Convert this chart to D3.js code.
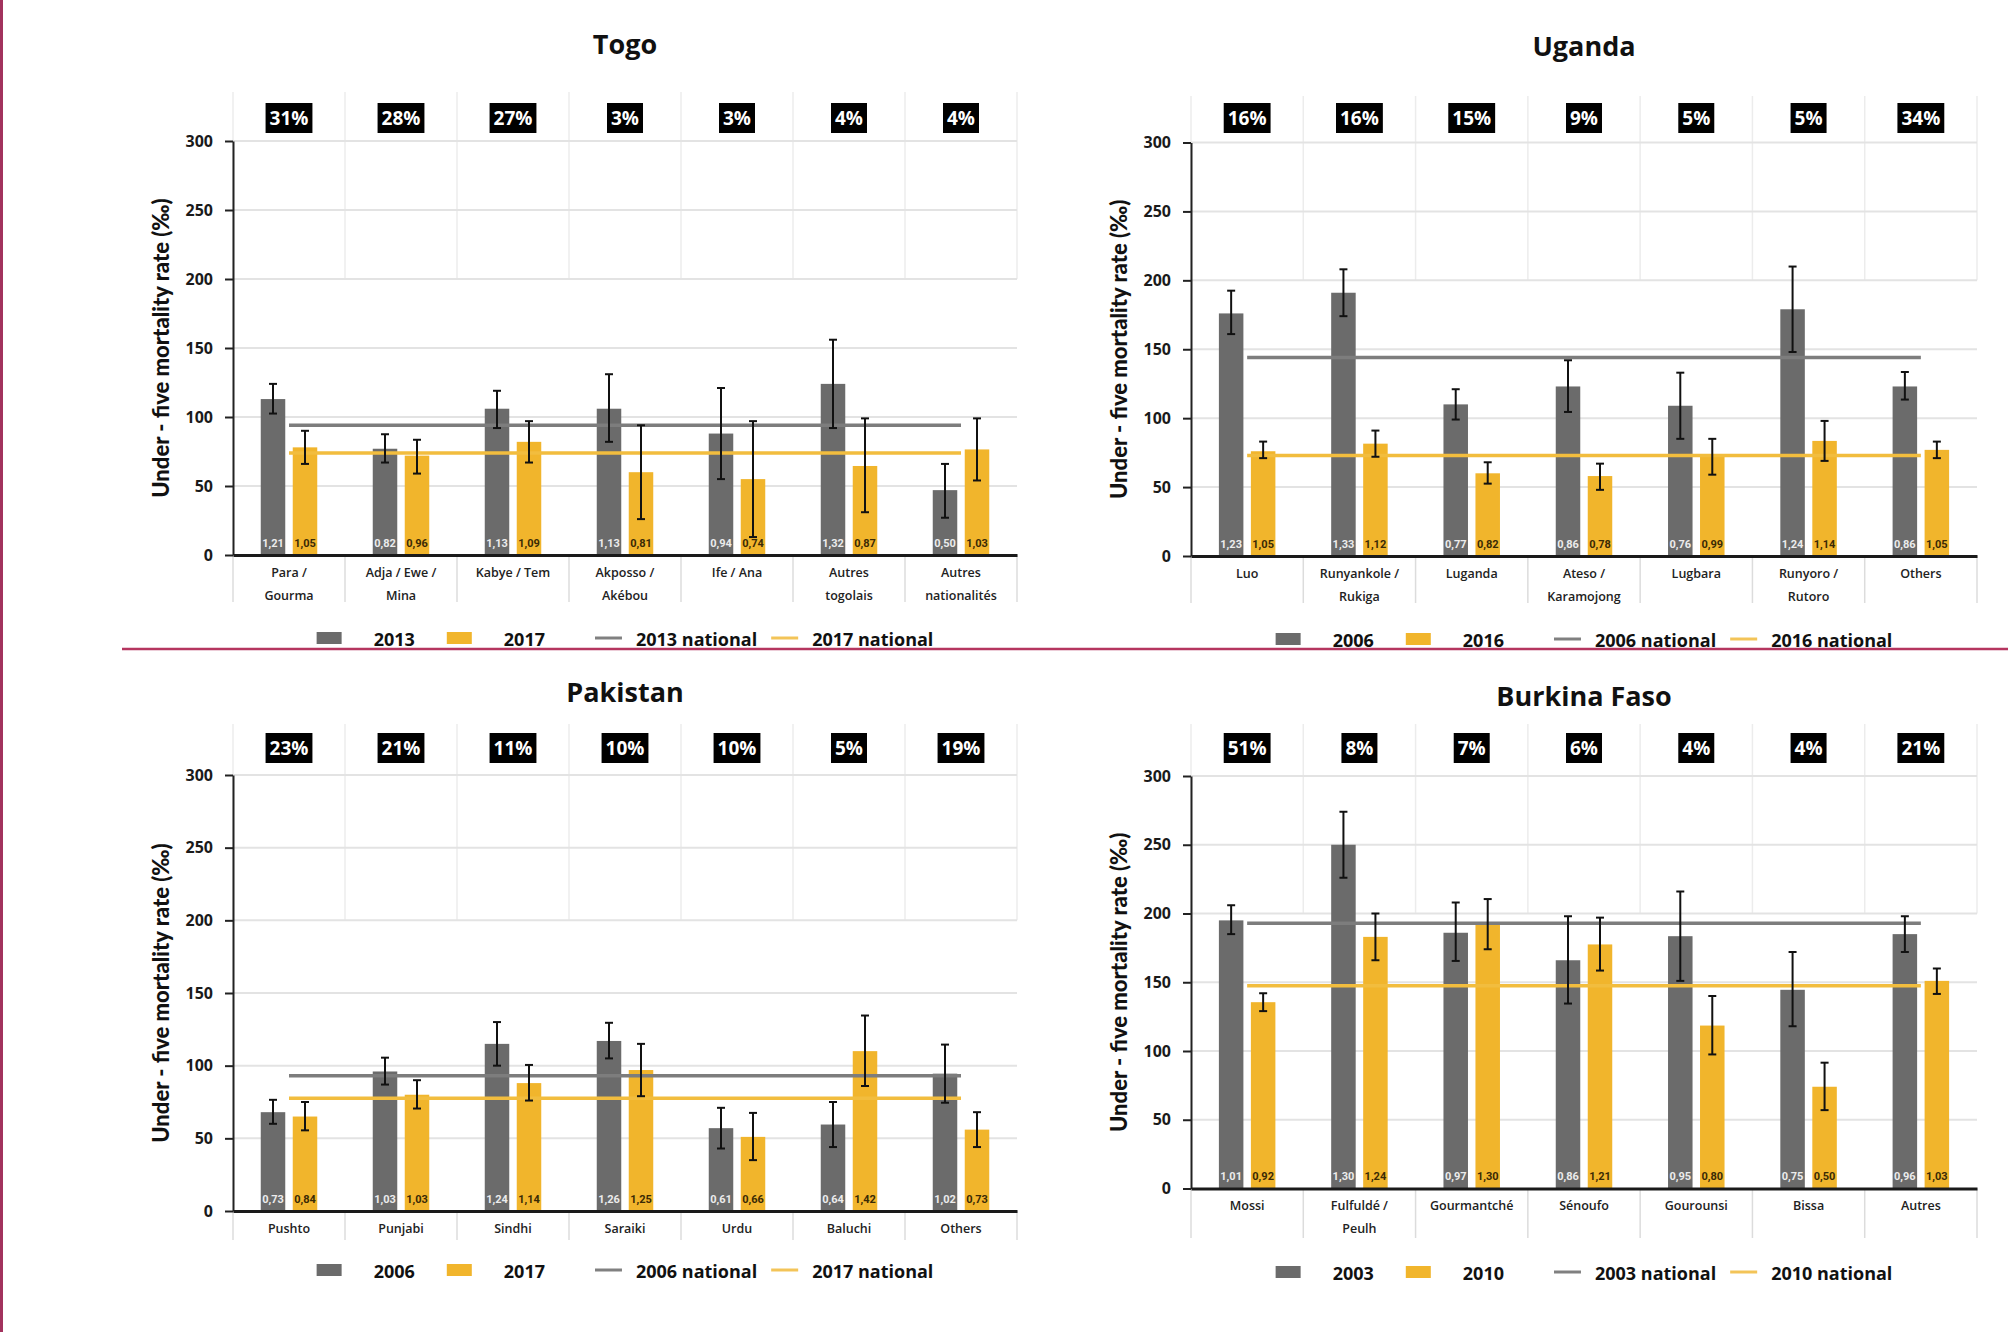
<!DOCTYPE html>
<html>
<head>
<meta charset="utf-8">
<script src="https://cdn.jsdelivr.net/npm/d3@7/dist/d3.min.js"></script>
<style>
  html, body { margin: 0; padding: 0; background: #ffffff; }
  svg { display: block; }
</style>
</head>
<body>
<div id="chart"></div>
<script>
// ---------------- DATA ----------------
// Togo
const togoTitle = "Togo";
const togoYears = ["2013", "2017"];
const togoCategories = [["Para /", "Gourma"], ["Adja / Ewe /", "Mina"], ["Kabye / Tem"], ["Akposso /", "Akébou"], ["Ife / Ana"], ["Autres", "togolais"], ["Autres", "nationalités"]];
const togoShares = ["31%", "28%", "27%", "3%", "3%", "4%", "4%"];
const togoValues1 = [113, 77, 106, 106, 88, 124, 47];
const togoLow1 = [102.5, 67, 92, 82, 55, 92, 27];
const togoHigh1 = [124, 87.5, 119, 131, 121, 156, 66];
const togoValues2 = [78, 72, 82, 60, 55, 64.5, 76.5];
const togoLow2 = [66, 59, 67, 26, 13, 31, 54];
const togoHigh2 = [90, 83.5, 97, 94, 97, 99, 99];
const togoRatio1 = ["1,21", "0,82", "1,13", "1,13", "0,94", "1,32", "0,50"];
const togoRatio2 = ["1,05", "0,96", "1,09", "0,81", "0,74", "0,87", "1,03"];
const togoNational = [94, 74];

// Uganda
const ugandaTitle = "Uganda";
const ugandaYears = ["2006", "2016"];
const ugandaCategories = [["Luo"], ["Runyankole /", "Rukiga"], ["Luganda"], ["Ateso /", "Karamojong"], ["Lugbara"], ["Runyoro /", "Rutoro"], ["Others"]];
const ugandaShares = ["16%", "16%", "15%", "9%", "5%", "5%", "34%"];
const ugandaValues1 = [176, 191, 110, 123, 109, 179, 123];
const ugandaLow1 = [161, 174, 99, 104.5, 85, 148, 113.5];
const ugandaHigh1 = [192.5, 208, 121, 142, 133, 210, 133.5];
const ugandaValues2 = [76, 81.5, 60, 58, 73, 83.5, 77];
const ugandaLow2 = [71, 72, 52.5, 48, 59, 69, 71];
const ugandaHigh2 = [83, 91, 68, 67, 85, 98, 83];
const ugandaRatio1 = ["1,23", "1,33", "0,77", "0,86", "0,76", "1,24", "0,86"];
const ugandaRatio2 = ["1,05", "1,12", "0,82", "0,78", "0,99", "1,14", "1,05"];
const ugandaNational = [144, 73];

// Pakistan
const pakistanTitle = "Pakistan";
const pakistanYears = ["2006", "2017"];
const pakistanCategories = [["Pushto"], ["Punjabi"], ["Sindhi"], ["Saraiki"], ["Urdu"], ["Baluchi"], ["Others"]];
const pakistanShares = ["23%", "21%", "11%", "10%", "10%", "5%", "19%"];
const pakistanValues1 = [68, 96, 115, 117, 57, 59.5, 94.5];
const pakistanLow1 = [60, 87, 100, 105, 43, 44, 74.5];
const pakistanHigh1 = [76.5, 105.5, 130, 129.5, 71, 75, 114.5];
const pakistanValues2 = [65, 80, 88, 97, 51, 110, 56];
const pakistanLow2 = [55.5, 70.5, 76, 79, 35, 86, 44];
const pakistanHigh2 = [75, 90, 100.5, 115, 67.5, 134.5, 68];
const pakistanRatio1 = ["0,73", "1,03", "1,24", "1,26", "0,61", "0,64", "1,02"];
const pakistanRatio2 = ["0,84", "1,03", "1,14", "1,25", "0,66", "1,42", "0,73"];
const pakistanNational = [93, 77.5];

// Burkina Faso
const burkinaTitle = "Burkina Faso";
const burkinaYears = ["2003", "2010"];
const burkinaCategories = [["Mossi"], ["Fulfuldé /", "Peulh"], ["Gourmantché"], ["Sénoufo"], ["Gourounsi"], ["Bissa"], ["Autres"]];
const burkinaShares = ["51%", "8%", "7%", "6%", "4%", "4%", "21%"];
const burkinaValues1 = [195, 250, 186, 166, 183.5, 144.5, 185];
const burkinaLow1 = [185, 226, 165.5, 134.5, 151, 118, 172];
const burkinaHigh1 = [206, 274, 208, 198, 216, 172, 198];
const burkinaValues2 = [135.5, 183, 193.5, 177.5, 118.5, 74, 151];
const burkinaLow2 = [129, 166, 174, 158.5, 97.5, 57, 141.5];
const burkinaHigh2 = [142, 200, 210.5, 197, 140, 91.5, 160];
const burkinaRatio1 = ["1,01", "1,30", "0,97", "0,86", "0,95", "0,75", "0,96"];
const burkinaRatio2 = ["0,92", "1,24", "1,30", "1,21", "0,80", "0,50", "1,03"];
const burkinaNational = [193, 147.5];

const yTicks = [0, 50, 100, 150, 200, 250, 300];
const yAxisTitle = "Under - five mortality rate (‰)";

// ---------------- STYLE / LAYOUT ----------------
const W = 2008, H = 1332;
const C_DARK = "#6b6b6b", C_YEL = "#f1b52c";
const C_NAT_DARK = "#7d7d7d", C_NAT_YEL = "#f2bd3e";
const C_GRID = "#e3e3e3", C_SEP = "#dcdcdc";

const svg = d3.select("#chart").append("svg")
  .attr("width", W).attr("height", H)
  .attr("viewBox", `0 0 ${W} ${H}`);
svg.append("rect").attr("width", W).attr("height", H).attr("fill", "#fff");

// decorative frame lines
svg.append("rect").attr("x", 0).attr("y", 0).attr("width", 3).attr("height", H).attr("fill", "#a2325d");
svg.append("line").attr("x1", 122).attr("x2", W).attr("y1", 649).attr("y2", 649)
  .attr("stroke", "#b5355f").attr("stroke-width", 2.5);

function drawPanel(d, L) {
  const g = svg.append("g");
  const idx = d3.range(d.categories.length);
  const x = d3.scaleBand().domain(idx).range([L.left, L.right]).padding(0);
  const inner = d3.scaleBand().domain([0, 1]).range([-28.25, 28.25]).paddingInner(0.234).paddingOuter(0);
  const y = d3.scaleLinear().domain([0, 300]).range([L.yBottom, L.yTop]);
  const step = x.step();
  const bounds = d3.range(d.categories.length + 1).map(i => L.left + i * step);

  // vertical separators in top area (down to 200 level)
  g.selectAll(".vsepTop").data(bounds).join("line")
    .attr("x1", b => b).attr("x2", b => b)
    .attr("y1", L.sepTop).attr("y2", y(200))
    .attr("stroke", "#ececec").attr("stroke-width", 1.5);

  // horizontal gridlines
  g.selectAll(".grid").data(yTicks.filter(t => t > 0)).join("line")
    .attr("x1", L.left).attr("x2", L.right)
    .attr("y1", t => y(t)).attr("y2", t => y(t))
    .attr("stroke", C_GRID).attr("stroke-width", 2);

  // separators below axis
  g.selectAll(".vsepBot").data(bounds).join("line")
    .attr("x1", b => b).attr("x2", b => b)
    .attr("y1", L.yBottom).attr("y2", L.sepBottom)
    .attr("stroke", C_SEP).attr("stroke-width", 1.5);

  // bars
  const series = [
    { v: d.values1, lo: d.low1, hi: d.high1, r: d.ratio1, color: C_DARK, text: "#ececec" },
    { v: d.values2, lo: d.low2, hi: d.high2, r: d.ratio2, color: C_YEL, text: "#3a2a05" }
  ];
  series.forEach((s, si) => {
    g.selectAll(".bar" + si).data(idx).join("rect")
      .attr("x", i => x(i) + step / 2 + inner(si))
      .attr("width", inner.bandwidth())
      .attr("y", i => y(s.v[i]))
      .attr("height", i => y(0) - y(s.v[i]))
      .attr("fill", s.color);
  });

  // national lines
  const natColors = [C_NAT_DARK, C_NAT_YEL];
  d.national.forEach((n, k) => {
    g.append("line")
      .attr("x1", x(0) + step / 2).attr("x2", x(idx.length - 1) + step / 2)
      .attr("y1", y(n)).attr("y2", y(n))
      .attr("stroke", natColors[k]).attr("stroke-width", 3.5);
  });

  // error bars
  series.forEach((s, si) => {
    idx.forEach(i => {
      const cx = x(i) + step / 2 + inner(si) + inner.bandwidth() / 2;
      const eg = g.append("g").attr("stroke", "#111").attr("stroke-width", 2);
      eg.append("line").attr("x1", cx).attr("x2", cx).attr("y1", y(s.lo[i])).attr("y2", y(s.hi[i]));
      eg.append("line").attr("x1", cx - 4).attr("x2", cx + 4).attr("y1", y(s.lo[i])).attr("y2", y(s.lo[i]));
      eg.append("line").attr("x1", cx - 4).attr("x2", cx + 4).attr("y1", y(s.hi[i])).attr("y2", y(s.hi[i]));
    });
  });

  // ratio labels inside bars
  series.forEach((s, si) => {
    g.selectAll(".ratio" + si).data(idx).join("text")
      .attr("x", i => x(i) + step / 2 + inner(si) + inner.bandwidth() / 2)
      .attr("y", L.yBottom - 12)
      .attr("text-anchor", "middle").attr("dominant-baseline", "central")
      .attr("font-family", "Roboto, 'Open Sans', sans-serif")
      .attr("font-weight", 700).attr("font-size", 11)
      .attr("fill", s.text)
      .text(i => s.r[i]);
  });

  // y axis
  const yAxis = d3.axisLeft(y).tickValues(yTicks).tickSize(8).tickSizeOuter(0).tickPadding(12);
  const ya = g.append("g").attr("transform", `translate(${L.left},0)`).call(yAxis);
  ya.select(".domain").attr("stroke", "#222").attr("stroke-width", 2);
  ya.selectAll(".tick line").attr("stroke", "#222").attr("stroke-width", 2);
  ya.selectAll(".tick text")
    .attr("font-family", "'Open Sans', sans-serif").attr("font-weight", 700)
    .attr("font-size", 16).attr("fill", "#1a1a1a");

  // x axis baseline
  const xAxis = d3.axisBottom(x).tickSize(0).tickFormat("");
  const xa = g.append("g").attr("transform", `translate(0,${L.yBottom})`).call(xAxis);
  xa.select(".domain").attr("stroke", "#1a1a1a").attr("stroke-width", 3);

  // category labels
  g.selectAll(".cat").data(idx).join("text")
    .attr("text-anchor", "middle")
    .attr("font-family", "'Open Sans', sans-serif").attr("font-weight", 600)
    .attr("font-size", 12.5).attr("fill", "#222")
    .each(function (i) {
      const t = d3.select(this);
      d.categories[i].forEach((line, li) => {
        t.append("tspan").attr("x", x(i) + step / 2).attr("y", L.labelY[li])
          .attr("dominant-baseline", "central").text(line);
      });
    });

  // share boxes
  idx.forEach(i => {
    const cx = x(i) + step / 2;
    const bg = g.append("g");
    const rect = bg.append("rect").attr("fill", "#000");
    const t = bg.append("text").attr("x", cx).attr("y", L.boxY)
      .attr("text-anchor", "middle").attr("dominant-baseline", "central")
      .attr("font-family", "'Open Sans', sans-serif").attr("font-weight", 700)
      .attr("font-size", 19).attr("fill", "#fff").text(d.shares[i]);
    const w = t.node().getComputedTextLength() + 8;
    rect.attr("x", cx - w / 2).attr("y", L.boxY - 15).attr("width", w).attr("height", 30);
  });

  // title
  g.append("text").attr("x", (L.left + L.right) / 2).attr("y", L.titleY)
    .attr("text-anchor", "middle").attr("dominant-baseline", "central")
    .attr("font-family", "'Open Sans', sans-serif").attr("font-weight", 700)
    .attr("font-size", 27).attr("fill", "#111").text(d.title);

  // y axis title
  g.append("text")
    .attr("transform", `translate(${L.left - 73},${(L.yTop + L.yBottom) / 2}) rotate(-90)`)
    .attr("text-anchor", "middle").attr("dominant-baseline", "central")
    .attr("font-family", "Lato, 'Open Sans', sans-serif").attr("font-weight", 900)
    .attr("font-size", 22).attr("fill", "#111").text(yAxisTitle);

  // legend
  const lg = g.append("g");
  let cur = 0;
  const items = [
    { type: "rect", color: C_DARK, label: d.years[0], gapAfter: 32 },
    { type: "rect", color: C_YEL, label: d.years[1], gapAfter: 50 },
    { type: "line", color: "#808080", label: d.years[0] + " national", gapAfter: 14 },
    { type: "line", color: "#f3c458", label: d.years[1] + " national", gapAfter: 0 }
  ];
  items.forEach(it => {
    if (it.type === "rect") {
      lg.append("rect").attr("x", cur).attr("y", -6).attr("width", 25).attr("height", 12).attr("fill", it.color);
      cur += 25 + 32;
    } else {
      lg.append("line").attr("x1", cur).attr("x2", cur + 27).attr("y1", 0).attr("y2", 0)
        .attr("stroke", it.color).attr("stroke-width", 3);
      cur += 27 + 14;
    }
    const t = lg.append("text").attr("x", cur).attr("y", 1)
      .attr("dominant-baseline", "central")
      .attr("font-family", "'Open Sans', sans-serif").attr("font-weight", 700)
      .attr("font-size", 18).attr("fill", "#111").text(it.label);
    cur += t.node().getComputedTextLength() + it.gapAfter;
  });
  const cxPlot = (L.left + L.right) / 2;
  lg.attr("transform", `translate(${cxPlot - cur / 2},${L.legendY})`);
}

drawPanel({
  title: togoTitle, years: togoYears, categories: togoCategories, shares: togoShares,
  values1: togoValues1, low1: togoLow1, high1: togoHigh1,
  values2: togoValues2, low2: togoLow2, high2: togoHigh2,
  ratio1: togoRatio1, ratio2: togoRatio2, national: togoNational
}, { left: 233, right: 1017, yTop: 141, yBottom: 555, titleY: 43, boxY: 118, sepTop: 92,
     labelY: [572, 595], sepBottom: 602, legendY: 638 });

drawPanel({
  title: ugandaTitle, years: ugandaYears, categories: ugandaCategories, shares: ugandaShares,
  values1: ugandaValues1, low1: ugandaLow1, high1: ugandaHigh1,
  values2: ugandaValues2, low2: ugandaLow2, high2: ugandaHigh2,
  ratio1: ugandaRatio1, ratio2: ugandaRatio2, national: ugandaNational
}, { left: 1191, right: 1977, yTop: 142.5, yBottom: 556, titleY: 45, boxY: 118, sepTop: 96,
     labelY: [573, 596], sepBottom: 603, legendY: 639 });

drawPanel({
  title: pakistanTitle, years: pakistanYears, categories: pakistanCategories, shares: pakistanShares,
  values1: pakistanValues1, low1: pakistanLow1, high1: pakistanHigh1,
  values2: pakistanValues2, low2: pakistanLow2, high2: pakistanHigh2,
  ratio1: pakistanRatio1, ratio2: pakistanRatio2, national: pakistanNational
}, { left: 233, right: 1017, yTop: 775, yBottom: 1211, titleY: 691, boxY: 748, sepTop: 724,
     labelY: [1228], sepBottom: 1240, legendY: 1270 });

drawPanel({
  title: burkinaTitle, years: burkinaYears, categories: burkinaCategories, shares: burkinaShares,
  values1: burkinaValues1, low1: burkinaLow1, high1: burkinaHigh1,
  values2: burkinaValues2, low2: burkinaLow2, high2: burkinaHigh2,
  ratio1: burkinaRatio1, ratio2: burkinaRatio2, national: burkinaNational
}, { left: 1191, right: 1977, yTop: 776, yBottom: 1188.5, titleY: 695, boxY: 748, sepTop: 724,
     labelY: [1205, 1228], sepBottom: 1238, legendY: 1272 });
</script>
</body>
</html>
